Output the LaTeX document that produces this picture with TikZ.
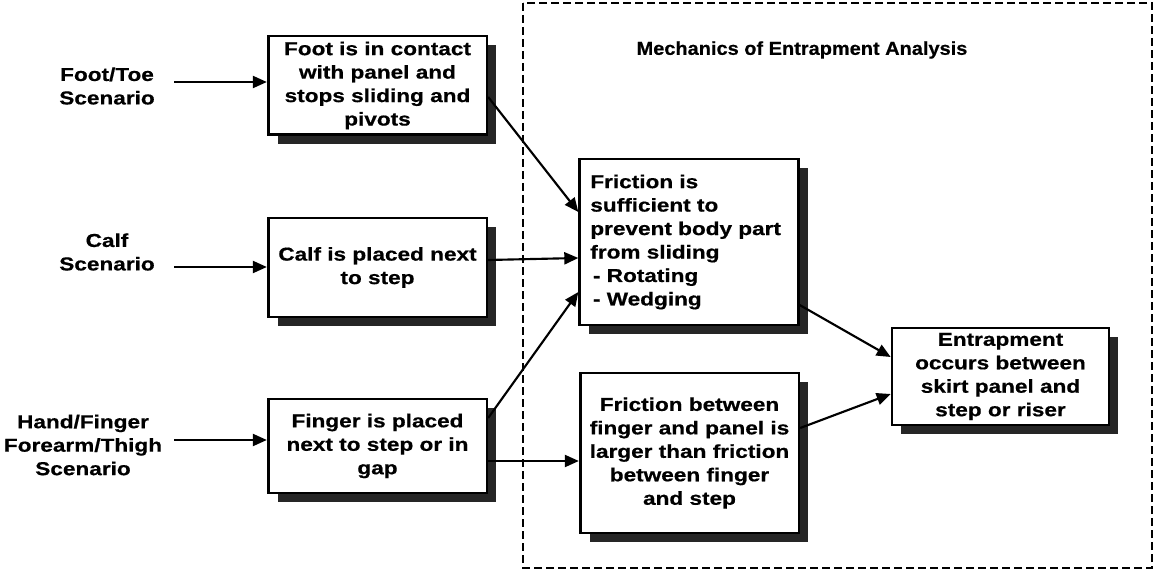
\documentclass[tikz,border=0pt]{standalone}
\usepackage{fontspec}
\setmainfont{Liberation Sans}
\newfontfamily\widefont[FakeStretch=1.21,FakeBold=0.6]{Liberation Sans}
\newfontfamily\titlefont[FakeStretch=1.07,FakeBold=0.6]{Liberation Sans}
\usetikzlibrary{arrows.meta,shadows}

\begin{document}
\begin{tikzpicture}[x=0.75pt,y=-0.75pt,
        every node/.style={font=\widefont\bfseries\fontsize{14}{17.6}\selectfont},
        stage/.style={draw,line width=2pt,fill=white,inner sep=0pt,minimum width=164pt,align=center,
            drop shadow={shadow xshift=7pt,shadow yshift=-7pt,fill=black!85,opacity=1}},
        flow/.style={line width=1.6pt,-{Triangle[length=10.5pt,width=9pt]}}]
                \useasboundingbox (0,0) rectangle (1157,574);
                \draw [line width=1.8pt,dash pattern=on 6pt off 3pt] (523,3) rectangle (1152,568);
                \node [font=\titlefont\bfseries\fontsize{14}{17.6}\selectfont] (title) at (802,50) {Mechanics of Entrapment Analysis};
                \node [align=center] (toe) at (107,86) {Foot/Toe\\Scenario};
                \node [align=center] (calf) at (107,252) {Calf\\Scenario};
                \node [align=center] (hand) at (83,445) {Hand/Finger\\Forearm/Thigh\\Scenario};
                \node [stage,minimum height=74pt] (foot) at (377.5,85.5) {Foot is in contact\\with panel and\\stops sliding and\\pivots};
                \node [stage,minimum height=74pt] (place) at (377.5,267.5) {Calf is placed next\\to step};
                \node [stage,minimum height=70.5pt] (finger) at (377.5,446) {Finger is placed\\next to step or in\\gap};
                \node [stage,minimum height=124.5pt,text width=148pt,align=left] (slide) at (689,242) {Friction is\\sufficient to\\prevent body part\\from sliding\\\hspace*{2pt}- Rotating\\\hspace*{2pt}- Wedging};
                \node [stage,minimum height=120pt] (grip) at (689.5,453) {Friction between\\finger and panel is\\larger than friction\\between finger\\and step};
                \node [stage,minimum height=72.75pt,minimum width=162.75pt] (trap) at (1000.5,376.5) {Entrapment\\occurs between\\skirt panel and\\step or riser};
                \draw [flow,shorten <=11pt] (toe.east |- 0,82) -- (foot.west |- 0,82);
                \draw [flow,shorten <=11pt] (calf.east |- 0,267) -- (place.west |- 0,267);
                \draw [flow,shorten <=5.5pt] (hand.east |- 0,440) -- (finger.west |- 0,440);
                \draw [flow] (foot.east |- 0,97) -- (slide.west |- 0,212);
                \draw [flow] (place.east |- 0,260) -- (slide.west |- 0,258);
                \draw [flow] (finger.east |- 0,418) -- (slide.west |- 0,292);
                \draw [flow] (finger.east |- 0,461) -- (grip.west |- 0,461);
                \draw [flow] (slide.east |- 0,305) -- (trap.west |- 0,357);
                \draw [flow] (grip.east |- 0,428) -- (trap.west |- 0,394);
            \end{tikzpicture}
\end{document}
